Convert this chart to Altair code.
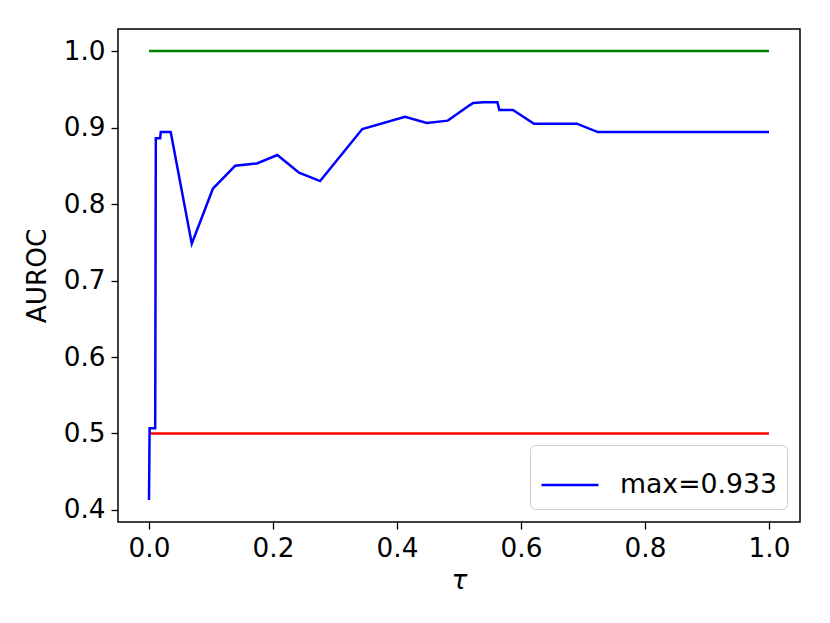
import altair as alt
import pandas as pd

tau = [0.0, 0.001, 0.010, 0.011, 0.018, 0.019, 0.035, 0.069, 0.103, 0.139, 0.174,
       0.207, 0.242, 0.276, 0.344, 0.413, 0.448, 0.482, 0.517, 0.523, 0.539, 0.562,
       0.565, 0.587, 0.621, 0.690, 0.724, 1.0]
auroc = [0.413, 0.507, 0.507, 0.886, 0.886, 0.894, 0.894, 0.748, 0.820, 0.850, 0.853,
         0.864, 0.841, 0.830, 0.898, 0.914, 0.906, 0.909, 0.929, 0.932, 0.933, 0.933,
         0.923, 0.923, 0.905, 0.905, 0.894, 0.894]
label = "max=0.933"
ref_x = [0.0, 1.0]
top_ref = [1.0, 1.0]
bottom_ref = [0.5, 0.5]

df = pd.DataFrame({"tau": tau, "auroc": auroc, "series": label})
df_top = pd.DataFrame({"tau": ref_x, "auroc": top_ref})
df_bot = pd.DataFrame({"tau": ref_x, "auroc": bottom_ref})

xs = alt.Scale(domain=[-0.05, 1.05], nice=False, zero=False)
ys = alt.Scale(domain=[0.3843, 1.0288], nice=False, zero=False)

xax = alt.Axis(values=[0, 0.2, 0.4, 0.6, 0.8, 1.0], format=".1f", title="τ",
               titleFontStyle="italic", titlePadding=6)
yax = alt.Axis(values=[0.4, 0.5, 0.6, 0.7, 0.8, 0.9, 1.0], format=".1f", title="AUROC",
               titlePadding=12)

green = alt.Chart(df_top).mark_line(color="#008000", strokeWidth=2.5).encode(
    x=alt.X("tau:Q", scale=xs, axis=xax), y=alt.Y("auroc:Q", scale=ys, axis=yax))
red = alt.Chart(df_bot).mark_line(color="#ff0000", strokeWidth=2.5).encode(
    x=alt.X("tau:Q", scale=xs), y=alt.Y("auroc:Q", scale=ys))
blue = alt.Chart(df).mark_line(strokeWidth=2.5).encode(
    x=alt.X("tau:Q", scale=xs),
    y=alt.Y("auroc:Q", scale=ys),
    color=alt.Color("series:N", scale=alt.Scale(domain=[label], range=["#0000ff"]),
                    legend=alt.Legend(title=None, orient="bottom-right", offset=13,
                                      symbolType="stroke", symbolSize=3249,
                                      symbolStrokeWidth=2.5, labelOffset=20,
                                      labelFontSize=26.7, padding=10, cornerRadius=5,
                                      strokeColor="#cccccc", fillColor="white")),
)

chart = alt.layer(green, red, blue).properties(
    width=682, height=493,
    autosize=alt.AutoSizeParams(type="none"),
    padding={"left": 110, "top": 21, "right": 20, "bottom": 90},
).configure(font="DejaVu Sans").configure_view(
    stroke="black", strokeWidth=1.5
).configure_axis(
    grid=False, domain=False, tickColor="black", tickSize=7, tickWidth=1.3,
    labelFontSize=26.3, titleFontSize=26.3, labelColor="black", titleColor="black",
    titleFontWeight="normal", labelPadding=6,
)

chart.save("out.html", embed_options={"renderer": "svg", "actions": False})
